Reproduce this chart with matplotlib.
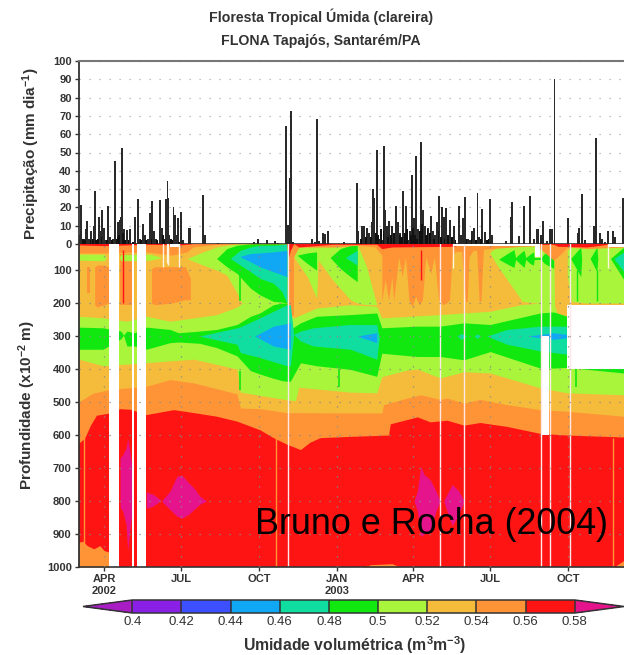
import numpy as np
import matplotlib
matplotlib.use('Agg')
import matplotlib.pyplot as plt
from matplotlib.colors import ListedColormap, BoundaryNorm
from matplotlib.cm import ScalarMappable

plt.rcParams['font.family'] = ['Liberation Sans', 'DejaVu Sans']
plt.rcParams['mathtext.default'] = 'regular'

# dias contados a partir de 2 mar 2002
tick_dias = [30, 121, 213, 305, 395, 486, 578]
tick_nomes = ['APR\n2002', 'JUL', 'OCT', 'JAN\n2003', 'APR', 'JUL', 'OCT']

# chuva diaria (mm/dia)
chuva_dia = [1, 3, 6, 9, 10, 12, 15, 18, 19, 24, 25, 28, 30, 32, 35, 37, 41, 43, 47, 49, 50, 51, 54, 57, 61, 67, 70, 72,
             76, 78, 82, 84, 87, 89, 91, 96, 98, 103, 105, 106, 107, 112, 114, 116, 117, 121, 123, 130, 132, 147, 149,
             165, 207, 212, 222, 232, 235, 245, 247, 250, 251, 253, 276, 279, 282, 284, 289, 291, 294, 313, 329, 330,
             335, 337, 341, 343, 346, 348, 349, 352, 355, 358, 361, 362, 364, 367, 370, 375, 377, 380, 383, 387, 389,
             391, 394, 396, 398, 399, 401, 404, 407, 409, 413, 414, 416, 418, 421, 423, 426, 429, 431, 434, 439, 443,
             449, 452, 454, 456, 460, 462, 465, 467, 471, 473, 476, 480, 486, 488, 505, 510, 512, 520, 526, 533, 538,
             541, 542, 546, 548, 553, 557, 559, 562, 578, 590, 591, 594, 595, 598, 609, 611, 616, 618, 622, 625, 631,
             633, 643]
chuva_mm = [5, 21.5, 3, 8, 12.5, 3, 7, 10, 29, 15, 7, 18.5, 9, 2, 20.5, 4, 3, 45.5, 12, 13, 15, 52.5, 8, 7.5, 8, 14.5,
            24.5, 3, 11, 5, 3, 17, 23.5, 7, 3, 24, 9, 24.5, 34.5, 25, 5, 20, 16, 5, 14, 17.5, 2, 9, 9, 27, 5,
            0.7, 1, 3, 2, 1.5, 0.5, 64.5, 10.5, 36, 72.5, 1, 3, 1, 68.5, 1.5, 6, 5.5, 7, 1, 33.5, 7,
            10, 10, 9, 6, 12, 30, 25, 51.5, 3, 2, 53.5, 18.5, 10, 12.5, 10, 21, 12, 6, 29, 21, 2,
            7, 37.5, 14, 48, 17, 8, 56, 18.5, 10, 9, 6, 15.5, 7, 5, 12, 26, 20, 15, 19.5, 13, 10,
            21, 5, 14, 25.5, 3, 2, 7, 9, 28, 4, 19, 6.5, 24.5, 5, 1.5, 15, 23, 4.5, 20.5, 26, 3,
            8, 8, 5, 12.5, 1.5, 8, 8, 90, 14, 6, 9, 27.5, 9, 2, 10, 58, 6, 3, 1, 7, 7,
            4, 25]
# chuvas pequenas que formam a base preta
miuda_dia = [5, 8, 14, 17, 21, 23, 27, 34, 39, 45, 46, 48, 52, 53, 55, 59, 64, 74, 80, 86, 93, 100, 101, 109, 110, 119,
             333, 339, 345, 351, 354, 357, 360, 365, 369, 372, 373, 379, 382, 385, 388, 392, 395, 397, 400, 403, 405,
             406, 410, 412, 415, 420, 425, 428, 432, 436, 441, 445, 458, 464, 469, 475, 482, 484]
miuda_mm = [3, 2, 2, 3, 2, 3, 4, 2, 2, 3, 4, 5, 6, 5, 2, 2, 1, 2, 2, 3, 2, 5, 3, 3, 2, 1,
            3, 4, 4, 6, 5, 8, 7, 4, 5, 6, 4, 5, 4, 6, 8, 5, 9, 5, 3, 7, 11, 4, 5, 8, 6, 3, 7, 4, 3, 5, 4, 2, 3, 3, 2, 3,
            2, 3]

# limites das camadas de umidade (profundidade por dia)
verm_x = [0, 7, 14, 21, 37, 49, 61, 80, 112, 136, 163, 187, 214, 230, 246, 262, 273, 285, 321, 366, 368, 400, 415, 435,
          455, 474, 506, 545, 577, 644]
verm_z = [625, 610, 570, 540, 533, 520, 522, 538, 523, 532, 543, 558, 584, 608, 628, 644, 622, 608, 604, 600, 566, 545,
          560, 555, 570, 562, 574, 595, 600, 606]
lar_x = [0, 17, 37, 80, 108, 136, 187, 191, 214, 246, 321, 358, 360, 388, 404, 427, 435, 455, 474, 506, 545, 577, 644]
lar_z = [500, 473, 462, 452, 432, 442, 475, 518, 520, 532, 533, 533, 508, 488, 478, 492, 488, 503, 492, 508, 523, 528, 543]
ama_x = [0, 29, 57, 108, 136, 187, 191, 246, 256, 260, 321, 352, 358, 388, 400, 427, 455, 486, 545, 577, 644]
ama_z = [370, 390, 385, 375, 370, 400, 470, 493, 496, 455, 470, 472, 423, 403, 400, 427, 408, 412, 457, 472, 478]
cl_x = [0, 29, 57, 80, 108, 136, 163, 187, 193, 230, 246, 250, 254, 281, 321, 352, 358, 427, 455, 486, 522, 545, 561,
        566, 644]
cl_z = [240, 245, 255, 240, 255, 245, 235, 212, 200, 195, 195, 240, 245, 215, 205, 210, 245, 235, 230, 225, 205, 200,
        200, 240, 240]
vd_x = [0, 29, 50, 53, 57, 66, 80, 108, 118, 143, 163, 187, 203, 214, 230, 240, 246, 250, 262, 281, 321, 352, 358, 400,
        427, 455, 486, 545, 561, 577, 644]
vd_topo = [273, 275, 285, 297, 285, 290, 273, 280, 290, 285, 280, 265, 240, 230, 205, 200, 200, 280, 260, 240, 235, 230,
           275, 270, 270, 260, 265, 230, 227, 240, 240]
vd_base = [340, 340, 308, 297, 330, 330, 340, 320, 318, 322, 335, 360, 405, 415, 428, 435, 437, 437, 381, 390, 401, 422,
           352, 362, 362, 372, 347, 397, 397, 395, 412]
tq_x = [143, 187, 191, 214, 246, 250, 254, 262, 277, 321, 352, 355]
tq_topo = [300, 275, 272, 245, 205, 205, 295, 285, 275, 265, 265, 305]
tq_base = [300, 325, 350, 365, 390, 390, 295, 315, 330, 340, 370, 305]
tq2_x = [482, 506, 545, 577]
tq2_topo = [300, 280, 270, 270]
tq2_base = [300, 325, 345, 355]
tq3_x = [447, 452, 458, 467, 471, 474]
tq3_topo = [300, 292, 300, 300, 293, 300]
tq3_base = [300, 310, 300, 300, 307, 300]
az_x = [208, 230, 250]
az_topo = [300, 270, 260]
az_base = [300, 330, 340]
az2_x = [329, 352]
az2_topo = [300, 290]
az2_base = [300, 320]
az3_x = [530, 561, 577]
az3_topo = [300, 290, 295]
az3_base = [300, 310, 305]

# cunhas da parte de cima
c1_x = [128, 147, 163, 175, 187, 193, 246]
c1_topo = [65, 45, 30, 25, 20, 18, 18]
c1_base = [65, 85, 100, 115, 170, 200, 200]
c2_x = [254, 270, 281, 283, 300, 321, 329, 340, 352]
c2_topo = [30, 30, 30, 30, 30, 30, 20, 90, 205]
c2_base = [60, 120, 185, 70, 130, 190, 200, 205, 205]
c3_x = [486, 494, 524, 561, 562]
c3_topo = [45, 30, 28, 28, 205]
c3_base = [50, 85, 195, 205, 205]
c4_x = [577, 582, 600, 644]
c4_topo = [40, 30, 30, 30]
c4_base = [120, 195, 200, 200]
v1_x = [163, 175, 187, 203, 214, 230, 240, 246]
v1_topo = [65, 35, 25, 20, 18, 18, 18, 18]
v1_base = [65, 90, 110, 155, 175, 195, 197, 200]
t1_x = [179, 191, 203, 214, 230, 240, 246]
t1_topo = [65, 40, 30, 25, 25, 23, 20]
t1_base = [65, 85, 105, 125, 140, 165, 200]
a1_x = [191, 203, 214, 230, 246]
a1_topo = [58, 50, 48, 45, 40]
a1_base = [60, 75, 90, 105, 120]
v2_x = [258, 270, 281]
v2_topo = [55, 48, 45]
v2_base = [55, 80, 100]
v3_x = [297, 309, 321, 329]
v3_topo = [62, 35, 25, 20]
v3_base = [62, 95, 120, 135]
t3_x = [315, 329]
t3_topo = [62, 40]
t3_base = [62, 85]
v4_x = [496, 505, 514, 516, 520, 526, 528, 533, 537, 538, 546, 550, 561]
v4_topo = [67, 52, 38, 62, 52, 40, 62, 52, 45, 62, 62, 50, 40]
v4_base = [67, 80, 92, 68, 78, 92, 68, 80, 85, 68, 68, 80, 95]
v5_x = [581, 593, 594, 604, 612, 613, 628, 644]
v5_topo = [65, 30, 65, 65, 30, 65, 65, 30]
v5_base = [65, 120, 65, 65, 105, 65, 65, 130]
t5_x = [632, 644]
t5_topo = [65, 45]
t5_base = [65, 105]

# faixa verde clara perto de 60 e manchas laranja
fx_x = [0, 30, 33, 48, 50, 85, 96, 97]
fx_topo = [52, 52, 62, 62, 52, 52, 60, 62]
fx_base = [70, 72, 62, 62, 72, 70, 64, 62]
lj1_x = [19, 22, 30, 36]
lj1_topo = [90, 85, 85, 90]
lj1_base = [205, 212, 205, 200]
lj2_x = [10, 13]
lj2_topo = [90, 90]
lj2_base = [170, 170]
lj3_x = [49, 63]
lj3_topo = [50, 50]
lj3_base = [205, 205]
lj4_x = [86, 90, 110, 126, 132]
lj4_topo = [95, 90, 90, 90, 125]
lj4_base = [200, 205, 200, 190, 190]
lj5_x = [246, 254]
lj5_topo = [20, 20]
lj5_base = [240, 240]
pico_x = [358, 362, 366, 370, 372, 378, 382, 386, 390, 394, 398, 402, 406, 410, 416, 420, 425, 430, 434, 438, 441, 445,
          452, 457, 459, 461, 466, 470, 473, 475, 478]
pico_z = [195, 130, 190, 120, 195, 60, 120, 60, 190, 210, 180, 205, 190, 60, 110, 60, 190, 205, 200, 190, 60, 40, 40,
          195, 195, 60, 40, 40, 195, 195, 40]
sup_lj_x = [0, 30, 80, 110, 128, 135, 163, 180, 246, 248, 254, 260, 300, 329, 350, 358, 443, 486, 540, 561, 570, 577,
            600, 644]
sup_lj_z = [48, 48, 45, 55, 45, 30, 22, 20, 20, 110, 60, 30, 30, 25, 30, 55, 45, 35, 25, 70, 50, 30, 35, 30]
sup_vm_x = [0, 30, 80, 118, 128, 135, 246, 248, 250, 254, 260, 300, 352, 358, 370, 443, 450, 561, 566, 600, 625, 644]
sup_vm_z = [24, 26, 22, 24, 22, 20, 20, 60, 40, 20, 30, 22, 22, 35, 30, 28, 22, 22, 28, 30, 22, 22]

# manchas magenta (umidade > 0.58) e laranja no fundo
m1_x = [49, 52, 56, 58, 60, 63]
m1_topo = [670, 660, 640, 610, 640, 700]
m1_base = [820, 830, 870, 950, 900, 830]
m2_x = [80, 88, 96]
m2_topo = [773, 780, 795]
m2_base = [822, 815, 800]
m3_x = [98, 108, 116, 122, 130, 136, 143, 151]
m3_topo = [800, 770, 725, 722, 745, 760, 785, 800]
m3_base = [800, 826, 846, 852, 840, 826, 810, 800]
m4_x = [396, 400, 404, 408, 415, 422, 427]
m4_topo = [800, 770, 695, 720, 735, 770, 800]
m4_base = [800, 830, 907, 900, 890, 830, 800]
m5_x = [431, 441, 449, 455]
m5_topo = [800, 750, 770, 800]
m5_base = [800, 875, 840, 800]
f1_x = [0, 5, 10, 18, 25, 30, 36]
f1_topo = [925, 922, 935, 945, 935, 950, 955]
f2_x = [336, 345, 370, 380]
f2_topo = [1000, 993, 990, 1000]
f3_x = [632, 644]
f3_topo = [1000, 980]

# falhas nos dados (dia inicial, dia final, prof. topo, prof. base)
falha_ini = [36, 63, 69, 108, 443, 539, 547, 577, 626]
falha_fim = [48, 65, 80, 118, 545, 545, 556, 644, 644]
falha_topo = [0, 0, 0, 0, 0, 0, 300, 205, 0]
falha_base = [1000, 1000, 1000, 30, 28, 60, 600, 400, 30]
linha_branca = [247, 427, 455, 546, 557, 580]
linha_curta = [100, 104, 106, 118, 442, 625]
linha_curta_z = [90, 80, 85, 90, 95, 95]

niveis = [0.4, 0.42, 0.44, 0.46, 0.48, 0.5, 0.52, 0.54, 0.56, 0.58]
cores = ['#8a1fe6', '#3c50ff', '#10a8f5', '#10dea0', '#10e810', '#a8f53c', '#f5bc3c', '#ff9436', '#ff1414']
cor_menor = '#a81ec4'
cor_maior = '#e6148c'
VERDE, CLARO, AMARELO, LARANJA, VERMELHO = '#10e810', '#a8f53c', '#f5bc3c', '#ff9436', '#ff1414'
TEAL, AZUL = '#10dea0', '#10a8f5'
ESCURO = '#333333'


def faixa(ax, x, topo, base, cor):
    ax.fill_between(x, topo, base, color=cor, lw=0)


fig = plt.figure(figsize=(6.24, 6.55), dpi=100)
L, W = 78.6 / 624, (624 - 78.6) / 624
ax1 = fig.add_axes([L, 1 - 244 / 655, W, 183 / 655])
ax2 = fig.add_axes([L, 1 - 567 / 655, W, 323 / 655])

# precipitacao
ax1.bar(chuva_dia, chuva_mm, width=2.2, color='#2a2a2a', lw=0, zorder=3)
ax1.bar(miuda_dia, miuda_mm, width=2.2, color='#111111', lw=0, zorder=3)
ax1.set_xlim(0, 644)
ax1.set_ylim(0, 100)
ax1.set_yticks(range(0, 101, 10))
ax1.set_xticks(tick_dias)
ax1.tick_params(axis='x', length=0, labelbottom=False)
ax1.tick_params(axis='y', length=3, width=1, color=ESCURO, pad=2, labelsize=8, labelcolor=ESCURO)
ax1.grid(True, axis='y', color='#aaaaaa', lw=0.9, ls=(0, (1, 7)))
ax1.set_axisbelow(True)
for t in ax1.get_yticklabels():
    t.set_fontweight('bold')
ax1.spines['right'].set_visible(False)

# umidade
ax2.set_facecolor(VERMELHO)
dias = np.arange(0, 645)
faixa(ax2, verm_x, 0, verm_z, LARANJA)
faixa(ax2, lar_x, 0, lar_z, AMARELO)
for x, t, b in [(f1_x, f1_topo, 1000), (f2_x, f2_topo, 1000), (f3_x, f3_topo, 1000)]:
    faixa(ax2, x, t, b, LARANJA)
for x, t, b in [(m1_x, m1_topo, m1_base), (m2_x, m2_topo, m2_base), (m3_x, m3_topo, m3_base),
                (m4_x, m4_topo, m4_base), (m5_x, m5_topo, m5_base)]:
    faixa(ax2, x, t, b, cor_maior)
faixa(ax2, dias, np.interp(dias, cl_x, cl_z), np.interp(dias, ama_x, ama_z), CLARO)
for x, t, b in [(lj1_x, lj1_topo, lj1_base), (lj2_x, lj2_topo, lj2_base), (lj3_x, lj3_topo, lj3_base),
                (lj4_x, lj4_topo, lj4_base), (lj5_x, lj5_topo, lj5_base)]:
    faixa(ax2, x, t, b, LARANJA)
faixa(ax2, fx_x, fx_topo, fx_base, CLARO)
faixa(ax2, pico_x, 0, pico_z, LARANJA)
for x, t, b in [(c1_x, c1_topo, c1_base), (c2_x, c2_topo, c2_base), (c3_x, c3_topo, c3_base), (c4_x, c4_topo, c4_base)]:
    faixa(ax2, x, t, b, CLARO)
faixa(ax2, vd_x, vd_topo, vd_base, VERDE)
for x, t, b in [(tq_x, tq_topo, tq_base), (tq2_x, tq2_topo, tq2_base), (tq3_x, tq3_topo, tq3_base)]:
    faixa(ax2, x, t, b, TEAL)
for x, t, b in [(az_x, az_topo, az_base), (az2_x, az2_topo, az2_base), (az3_x, az3_topo, az3_base)]:
    faixa(ax2, x, t, b, AZUL)
for x, t, b in [(v1_x, v1_topo, v1_base), (v2_x, v2_topo, v2_base), (v3_x, v3_topo, v3_base), (v4_x, v4_topo, v4_base),
                (v5_x, v5_topo, v5_base)]:
    faixa(ax2, x, t, b, VERDE)
for x, t, b in [(t1_x, t1_topo, t1_base), (t3_x, t3_topo, t3_base), (t5_x, t5_topo, t5_base)]:
    faixa(ax2, x, t, b, TEAL)
faixa(ax2, a1_x, a1_topo, a1_base, AZUL)
faixa(ax2, sup_lj_x, 0, sup_lj_z, LARANJA)
faixa(ax2, sup_vm_x, 0, sup_vm_z, VERMELHO)

# listras finas
ax2.vlines([53, 404], 40, [200, 130], color=VERMELHO, lw=1)
ax2.vlines([6, 233, 631], [610, 610, 610], 1000, color=LARANJA, lw=1)
ax2.vlines([191, 191, 308, 587], [105, 405, 400, 400], [195, 465, 455, 455], color=VERDE, lw=1.2)
ax2.vlines([588, 612], 100, 195, color=VERDE, lw=1)

for i in range(len(falha_ini)):
    ax2.fill_between([falha_ini[i], falha_fim[i]], falha_topo[i], falha_base[i], color='white', lw=0, zorder=2)
ax2.vlines(linha_branca, 0, 1000, color='#ffe8e8', lw=1, zorder=2)
ax2.vlines(linha_curta, 0, linha_curta_z, color='#fff4e0', lw=1, zorder=2)

ax2.set_xlim(0, 644)
ax2.set_ylim(1000, 21)
ax2.set_yticks(range(100, 1001, 100))
ax2.set_xticks(tick_dias)
ax2.set_xticklabels(tick_nomes, fontsize=8, fontweight='bold', color=ESCURO, linespacing=1.25)
ax2.tick_params(axis='x', length=3, width=1, color=ESCURO, pad=2)
ax2.tick_params(axis='y', length=3, width=1, color=ESCURO, pad=2, labelsize=8, labelcolor=ESCURO)
for t in ax2.get_yticklabels():
    t.set_fontweight('bold')
ax2.grid(True, color='#8a8a8a', lw=0.9, ls=(0, (1, 7)), zorder=4)
ax2.set_axisbelow(False)
ax2.spines['right'].set_visible(False)
ax2.spines['top'].set_visible(False)
for ax in (ax1, ax2):
    ax.spines['left'].set_color(ESCURO)
    ax.spines['left'].set_linewidth(1.3)
    ax.spines['bottom'].set_color(ESCURO)
    ax.spines['bottom'].set_linewidth(1.2)
ax1.spines['top'].set_color('#777777')
ax1.spines['top'].set_linewidth(1.5)

# textos
fig.text(321 / 624, 1 - 17 / 655, 'Floresta Tropical Úmida (clareira)', ha='center', va='center', fontsize=10.2,
         color=ESCURO, fontweight='bold')
fig.text(321 / 624, 1 - 41 / 655, 'FLONA Tapajós, Santarém/PA', ha='center', va='center', fontsize=10.2,
         color=ESCURO, fontweight='bold')
fig.text(31 / 624, 1 - 154 / 655, 'Precipitação (mm dia$^{-1}$)', rotation=90, ha='center', va='center', fontsize=11,
         color=ESCURO, fontweight='bold')
fig.text(27 / 624, 1 - 405 / 655, 'Profundidade (x10$^{-2}$ m)', rotation=90, ha='center', va='center', fontsize=11,
         color=ESCURO, fontweight='bold')
ax2.text(608 / 624, 1 - 525 / 655, 'Bruno e Rocha (2004)', transform=fig.transFigure, ha='right', va='center',
         fontsize=25.8, color='black', zorder=6)

# barra de cores
cax = fig.add_axes([83 / 624, 1 - 613 / 655, 541 / 624, 13 / 655])
cmap = ListedColormap(cores)
cmap.set_under(cor_menor)
cmap.set_over(cor_maior)
norm = BoundaryNorm(niveis, cmap.N)
cb = fig.colorbar(ScalarMappable(norm=norm, cmap=cmap), cax=cax, orientation='horizontal', extend='both',
                  extendfrac=49 / 440, spacing='uniform', ticks=niveis, drawedges=True)
cb.ax.set_xticklabels([str(n) for n in niveis], fontsize=9.5, color=ESCURO)
cb.ax.tick_params(length=0, pad=2)
cb.outline.set_edgecolor(ESCURO)
cb.outline.set_linewidth(1.1)
cb.dividers.set_color(ESCURO)
cb.dividers.set_linewidth(1.1)
fig.text(355 / 624, 1 - 645 / 655, 'Umidade volumétrica (m$^3$m$^{-3}$)', ha='center', va='center', fontsize=11.3,
         color=ESCURO, fontweight='bold')

fig.savefig('out.png', dpi=100)
